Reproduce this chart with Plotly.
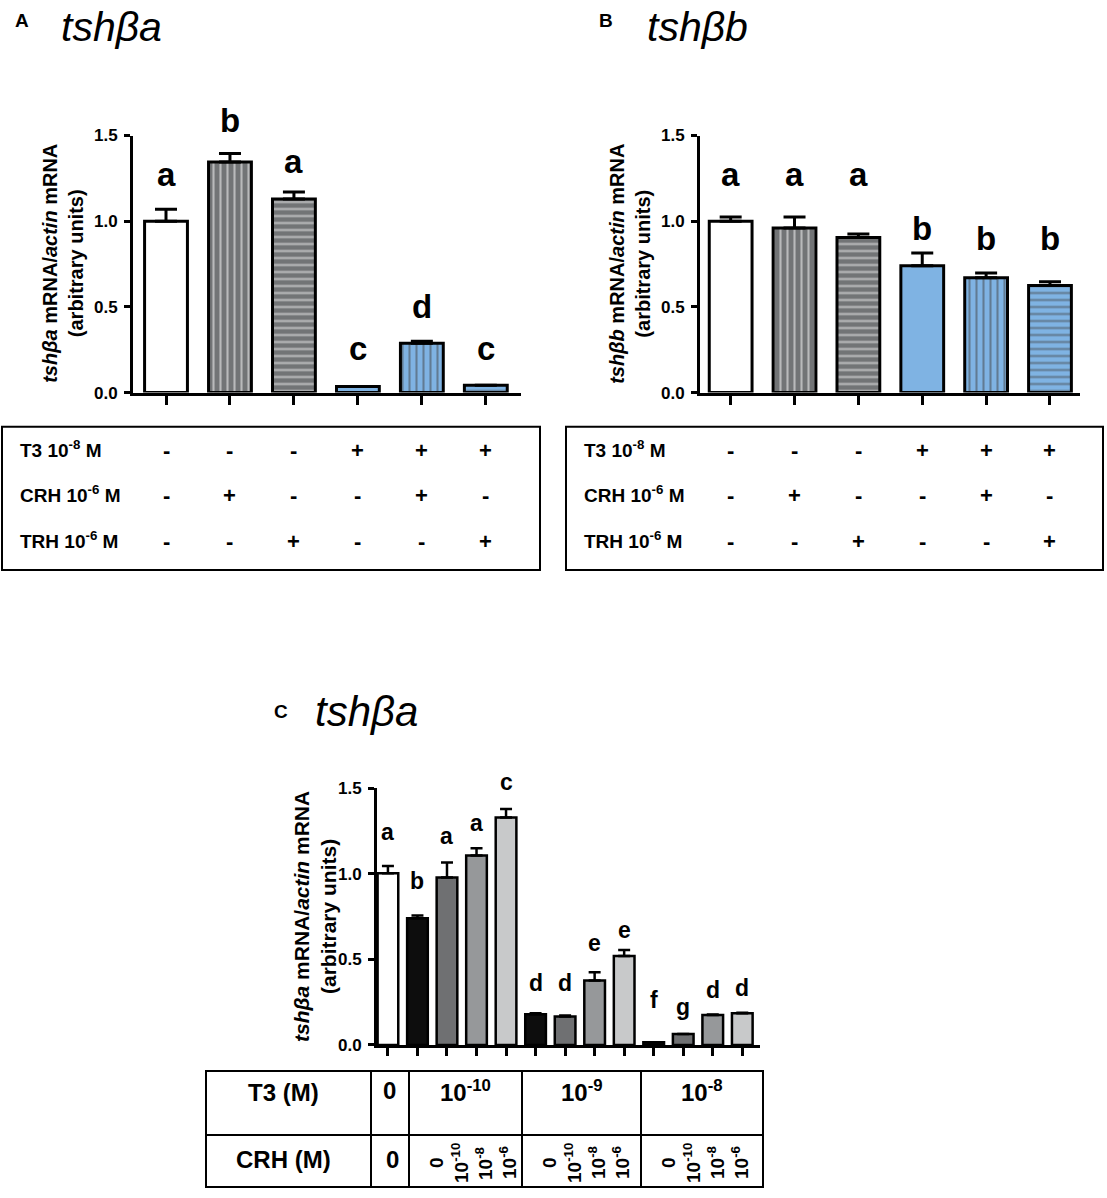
import plotly.graph_objects as go

W, H = 1107, 1198
FONT = "Liberation Sans, Arial, sans-serif"

# ---- data: panels A and B (6 treatments) ----
treat_idx = [0, 1, 2, 3, 4, 5]
a_mean = [1.00, 1.345, 1.13, 0.035, 0.288, 0.043]
a_err = [0.07, 0.05, 0.04, 0.0, 0.012, 0.0]
a_letters = ["a", "b", "a", "c", "d", "c"]
a_letter_y = [1.27, 1.59, 1.35, 0.26, 0.50, 0.26]

b_mean = [1.00, 0.96, 0.905, 0.74, 0.67, 0.625]
b_err = [0.024, 0.064, 0.02, 0.074, 0.027, 0.021]
b_letters = ["a", "a", "a", "b", "b", "b"]
b_letter_y = [1.27, 1.27, 1.27, 0.96, 0.90, 0.90]

row_labels = ["T3 10<sup>-8</sup> M", "CRH 10<sup>-6</sup> M", "TRH 10<sup>-6</sup> M"]
t3_row = ["-", "-", "-", "+", "+", "+"]
crh_row = ["-", "+", "-", "-", "+", "-"]
trh_row = ["-", "-", "+", "-", "-", "+"]

# ---- data: panel C (13 conditions) ----
c_idx = list(range(13))
c_mean = [1.003, 0.74, 0.978, 1.107, 1.329, 0.179, 0.166, 0.376, 0.52, 0.016, 0.064, 0.175, 0.185]
c_err = [0.043, 0.016, 0.088, 0.042, 0.05, 0.006, 0.006, 0.049, 0.035, 0.0, 0.0, 0.003, 0.003]
c_letters = ["a", "b", "a", "a", "c", "d", "d", "e", "e", "f", "g", "d", "d"]
c_letter_y = [1.247, 0.955, 1.218, 1.296, 1.539, 0.364, 0.364, 0.598, 0.672, 0.263, 0.224, 0.321, 0.331]
c_t3_groups = ["0", "10<sup>-10</sup>", "10<sup>-9</sup>", "10<sup>-8</sup>"]
c_crh_sub = ["0", "10<sup>-10</sup>", "10<sup>-8</sup>", "10<sup>-6</sup>"]

yticks = [0, 0.5, 1.0, 1.5]
ytick_text = ["0.0", "0.5", "1.0", "1.5"]

# ---- styles ----
ab_colors = ["#ffffff", "#727476", "#727476", "#7fb3e3", "#7fb3e3", "#7fb3e3"]
ab_patterns = ["", "|", "-", "", "|", "-"]
c_colors = ["#ffffff"] + ["#0d0d0d", "#6f7072", "#96989a", "#c8c9ca"] * 3

# pixel boxes of the three plot areas (left, right, y of 0, y of 1.5)
A_BOX = (133, 521, 392.7, 135.7)
B_BOX = (700, 1080, 392.7, 135.7)
C_BOX = (377, 760, 1045, 788.3)


def px(x):
    return x / W


def py(y):
    # page comes out slightly squashed/shifted vertically, compensate
    yy = min((y - 9.2) / 0.984, H - 1)
    return 1 - yy / H


def val_py(v, box):
    # data value -> paper y inside a panel (lets letters sit above 1.5)
    y0, y1 = box[2], box[3]
    return py(y0 - v * (y0 - y1) / 1.5)


fig = go.Figure()


def add_bars(x, y, err, colors, patterns, width, cap, xa, ya, lw=3):
    fig.add_trace(
        go.Bar(
            x=x,
            y=y,
            width=width,
            marker=dict(
                color=colors,
                line=dict(color="black", width=lw),
                pattern=dict(shape=patterns, fillmode="overlay", fgcolor="#1c1c1c",
                             size=7, solidity=0.3),
            ),
            error_y=dict(type="data", array=err, arrayminus=[0] * len(err),
                         symmetric=False, color="black", thickness=lw, width=cap),
            xaxis=xa,
            yaxis=ya,
            showlegend=False,
            hoverinfo="skip",
        )
    )


add_bars(treat_idx, a_mean, a_err, ab_colors, ab_patterns, 0.67, 11, "x", "y")
add_bars(treat_idx, b_mean, b_err, ab_colors, ab_patterns, 0.67, 11, "x2", "y2")
add_bars(c_idx, c_mean, c_err, c_colors, [""] * 13, 0.7, 6, "x3", "y3", lw=2.5)


def xax(box, rng, tickvals, ya, ticklen=9):
    return dict(domain=[px(box[0]), px(box[1])], range=rng, anchor=ya,
                showline=True, linecolor="black", linewidth=3,
                ticks="outside", ticklen=ticklen, tickwidth=3, tickcolor="black",
                tickvals=tickvals, showticklabels=False,
                showgrid=False, zeroline=False, fixedrange=True)


def yax(box, xa, size=17):
    return dict(domain=[py(box[2]), py(box[3])], range=[0, 1.5], anchor=xa,
                showline=True, linecolor="black", linewidth=3,
                ticks="outside", ticklen=6, tickwidth=3, tickcolor="black",
                tickvals=yticks, ticktext=ytick_text, ticklabelstandoff=3,
                tickfont=dict(family=FONT, size=size, color="black", weight="bold"),
                showgrid=False, zeroline=False, fixedrange=True)


fig.update_layout(
    xaxis=xax(A_BOX, [-0.516, 5.55], treat_idx, "y"),
    yaxis=yax(A_BOX, "x"),
    xaxis2=xax(B_BOX, [-0.48, 5.47], treat_idx, "y2"),
    yaxis2=yax(B_BOX, "x2"),
    xaxis3=xax(C_BOX, [-0.37, 12.6], c_idx, "y3", ticklen=8),
    yaxis3=yax(C_BOX, "x3"),
)

ann = []
shapes = []


def txt(x, y, text, size, xref="paper", yref="paper", xanchor="center",
        yanchor="middle", bold=True, italic=False, angle=0):
    ann.append(dict(x=x, y=y, xref=xref, yref=yref, text=text, showarrow=False,
                    xanchor=xanchor, yanchor=yanchor, textangle=angle,
                    font=dict(family=FONT, size=size, color="black",
                              weight="bold" if bold else "normal",
                              style="italic" if italic else "normal")))


# significance letters
for i, (l, ly) in enumerate(zip(a_letters, a_letter_y)):
    txt(i, val_py(ly, A_BOX), l, 33, xref="x")
for i, (l, ly) in enumerate(zip(b_letters, b_letter_y)):
    txt(i, val_py(ly, B_BOX), l, 33, xref="x2")
for i, (l, ly) in enumerate(zip(c_letters, c_letter_y)):
    txt(i, val_py(ly, C_BOX), l, 23, xref="x3")

# panel titles
txt(px(22), py(21), "A", 19)
txt(px(59), py(27), "tshβa", 41, xanchor="left", bold=False, italic=True)
txt(px(606), py(21), "B", 19)
txt(px(645), py(27), "tshβb", 41, xanchor="left", bold=False, italic=True)
txt(px(281), py(712), "C", 19)
txt(px(313), py(712), "tshβa", 42, xanchor="left", bold=False, italic=True)

# y-axis titles
txt(px(63), py(264), "<i>tshβa</i> mRNA/<i>actin</i> mRNA<br>(arbitrary units)", 20, angle=-90)
txt(px(630), py(264), "<i>tshβb</i> mRNA/<i>actin</i> mRNA<br>(arbitrary units)", 20, angle=-90)
txt(px(315), py(917), "<i>tshβa</i> mRNA/<i>actin</i> mRNA<br>(arbitrary units)", 21, angle=-90)

# treatment tables for A and B
row_y = [449, 494, 540]
for (x0, x1, lab_x, xa) in [(2, 540, 18, "x"), (566, 1103, 582, "x2")]:
    shapes.append(dict(type="rect", xref="paper", yref="paper", x0=px(x0), x1=px(x1),
                       y0=py(427), y1=py(570), line=dict(color="black", width=2)))
    for lab, row, yy in zip(row_labels, [t3_row, crh_row, trh_row], row_y):
        txt(px(lab_x), py(yy), lab, 19, xanchor="left")
        for i, s in enumerate(row):
            txt(i, py(yy + 2), s, 22, xref=xa)

# table for C
shapes.append(dict(type="rect", xref="paper", yref="paper", x0=px(206), x1=px(763),
                   y0=py(1071), y1=py(1197), line=dict(color="black", width=2)))
shapes.append(dict(type="line", xref="paper", yref="paper", x0=px(206), x1=px(763),
                   y0=py(1135), y1=py(1135), line=dict(color="black", width=2)))
col_edges = [206, 371, 409, 522, 641, 763]
for xe in col_edges[1:-1]:
    shapes.append(dict(type="line", xref="paper", yref="paper", x0=px(xe), x1=px(xe),
                       y0=py(1071), y1=py(1197), line=dict(color="black", width=2)))

txt(px(283), py(1093), "T3 (M)", 24)
txt(px(283), py(1160), "CRH (M)", 24)
for k, g in enumerate(c_t3_groups):
    cx = (col_edges[k + 1] + col_edges[k + 2]) / 2
    txt(px(cx), py(1091), g, 24)
txt(px(392), py(1160), "0", 24)
sub_offsets = [28, 51, 75, 99]
for k in range(3):
    left = col_edges[k + 2]
    for off, s in zip(sub_offsets, c_crh_sub):
        txt(px(left + off), py(1163), s, 19, angle=-90)

fig.update_layout(
    width=W,
    height=H,
    margin=dict(l=0, r=0, t=0, b=0),
    paper_bgcolor="white",
    plot_bgcolor="white",
    annotations=ann,
    shapes=shapes,
    font=dict(family=FONT, color="black"),
)

fig.write_html(
    "out.html",
    config={"displayModeBar": False},
    post_script="document.body.style.margin='0';document.body.style.overflow='hidden';",
)
